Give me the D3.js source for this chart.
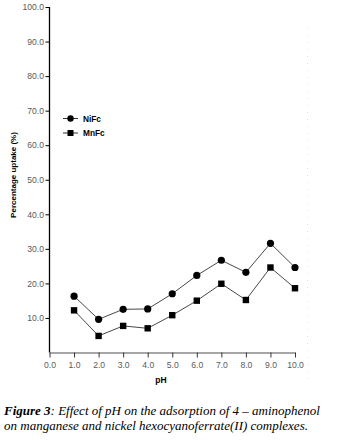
<!DOCTYPE html>
<html><head><meta charset="utf-8">
<script src="https://cdn.jsdelivr.net/npm/d3@7"></script>
<style>body{margin:0;background:#fff}svg{display:block}</style>
</head><body>
<svg id="c" width="357" height="440"></svg>
<script>
const pH = [1,2,3,4,5,6,7,8,9,10];
const nifc = [16.3,9.6,12.5,12.6,17.0,22.3,26.7,23.2,31.6,24.6];
const mnfc = [12.2,4.8,7.7,7.0,10.8,15.0,19.9,15.2,24.6,18.6];
const xTicks = [0,1,2,3,4,5,6,7,8,9,10];
const yTicks = [10,20,30,40,50,60,70,80,90,100];
const seriesNames = ["NiFc","MnFc"];

const svg = d3.select("#c");
const x = d3.scaleLinear().domain([0,10]).range([49.5,295]);
const y = d3.scaleLinear().domain([0,100]).range([352.5,7]);

// faint artifact frame line
svg.append("line").attr("x1",307.5).attr("x2",307.5).attr("y1",28).attr("y2",385)
  .attr("stroke","#ecdcec").attr("stroke-dasharray","1,6");

// y axis
const ya = svg.append("g").attr("transform","translate(49.5,0)")
  .call(d3.axisLeft(y).tickValues(yTicks).tickFormat(d3.format(".1f")).tickSize(4).tickSizeOuter(0));
ya.select(".domain").attr("stroke","#000").attr("stroke-width",1.3).attr("d","M0,352.5V7");
ya.selectAll(".tick line").attr("stroke","#000");
ya.selectAll(".tick text").attr("font-family","Liberation Sans, Arial, sans-serif").attr("font-size",8.6).attr("fill","#5a5a5a").attr("x",-5.5);

// x axis
const xa = svg.append("g").attr("transform","translate(0,352.5)")
  .call(d3.axisBottom(x).tickValues(xTicks).tickFormat(d3.format(".1f")).tickSize(5).tickSizeOuter(0));
xa.select(".domain").attr("stroke","#888").attr("stroke-width",1.6);
xa.selectAll(".tick line").attr("stroke","#333");
xa.selectAll(".tick text").attr("font-family","Liberation Sans, Arial, sans-serif").attr("font-size",8.6).attr("fill","#5a5a5a").attr("dy","0.85em");

// axis labels
svg.append("text").attr("x",161).attr("y",383).attr("text-anchor","middle")
  .attr("font-family","Liberation Sans, Arial, sans-serif").attr("font-size",8.5).attr("font-weight","bold").text("pH");
svg.append("text").attr("transform","translate(16,175) rotate(-90)").attr("text-anchor","middle")
  .attr("font-family","Liberation Sans, Arial, sans-serif").attr("font-size",8).attr("font-weight","bold").text("Percentage uptake (%)");

const line = d3.line().x((d,i)=>x(pH[i])).y(d=>y(d));
svg.append("path").datum(nifc).attr("d",line).attr("fill","none").attr("stroke","#333").attr("stroke-width",0.9);
svg.append("path").datum(mnfc).attr("d",line).attr("fill","none").attr("stroke","#333").attr("stroke-width",0.9);

svg.selectAll("circle.ni").data(nifc).join("circle").attr("class","ni")
  .attr("cx",(d,i)=>x(pH[i])).attr("cy",d=>y(d)).attr("r",3.6).attr("fill","#000");
svg.selectAll("rect.mn").data(mnfc).join("rect").attr("class","mn")
  .attr("x",(d,i)=>x(pH[i])-3.2).attr("y",d=>y(d)-3.2).attr("width",6.4).attr("height",6.4).attr("fill","#000");

// legend
const lg = svg.append("g");
[118.5,133].forEach((ly,k)=>{
  lg.append("line").attr("x1",63).attr("x2",78).attr("y1",ly).attr("y2",ly).attr("stroke","#333");
  if(k===0) lg.append("circle").attr("cx",70.5).attr("cy",ly).attr("r",3.2).attr("fill","#000");
  else lg.append("rect").attr("x",67.5).attr("y",ly-3).attr("width",6).attr("height",6).attr("fill","#000");
  lg.append("text").attr("x",83).attr("y",ly+3).attr("font-family","Liberation Sans, Arial, sans-serif")
    .attr("font-size",8.3).attr("font-weight","bold").text(seriesNames[k]);
});

// caption
const cap = svg.append("text").attr("font-family","Liberation Serif, Times New Roman, serif").attr("font-size",13).attr("font-style","italic");
const t1 = cap.append("tspan").attr("x",4).attr("y",415);
t1.append("tspan").attr("font-weight","bold").text("Figure 3");
t1.append("tspan").text(": Effect of pH on the adsorption of 4 \u2013 aminophenol");
cap.append("tspan").attr("x",4).attr("y",430).text("on manganese and nickel hexocyanoferrate(II) complexes.");
</script>
</body></html>
